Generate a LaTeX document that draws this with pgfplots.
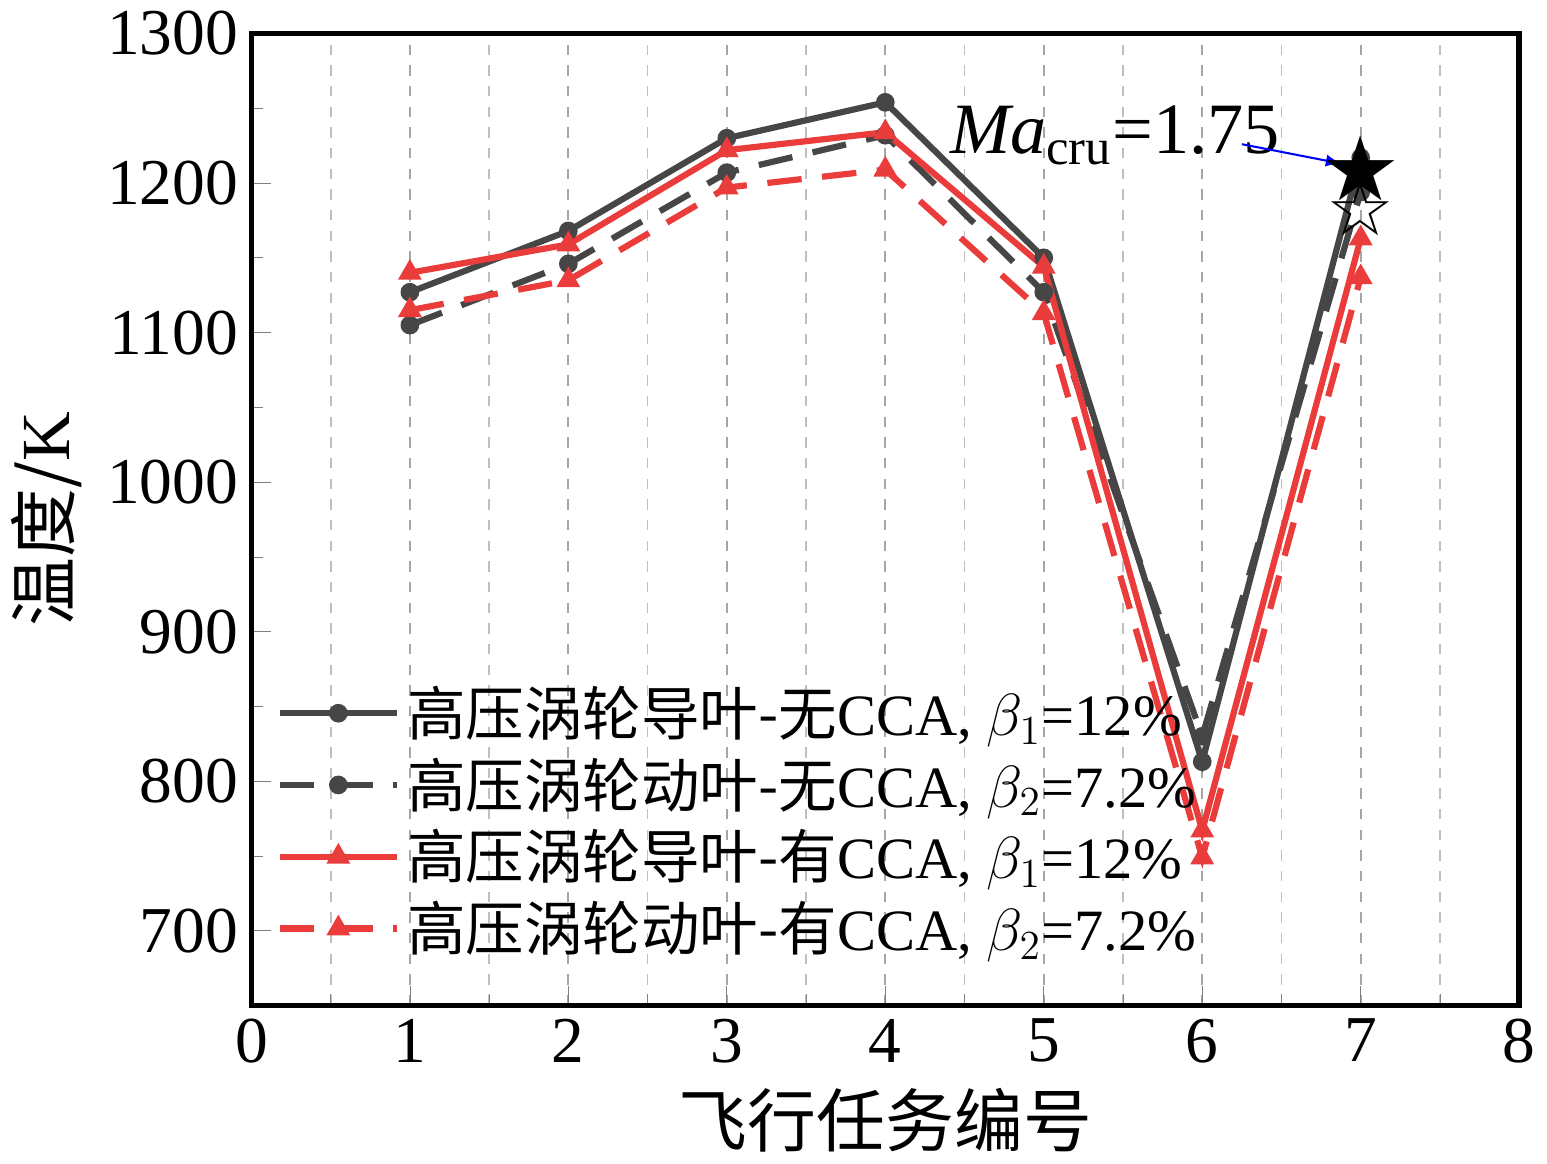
\documentclass[border=0pt]{standalone}
\usepackage{pgfplots}
\pgfplotsset{compat=1.18}
\usepackage{fontspec}
\setmainfont{Liberation Serif}
\newfontfamily\cjk{Noto Sans CJK SC}
\newfontfamily\dejavu{DejaVu Sans}
\begin{document}
\begin{tikzpicture}
\begin{axis}[
  scale only axis, width=12.94cm, height=9.92cm,
  xmin=0, xmax=8, ymin=650, ymax=1300,
  xtick={0,...,8}, minor xtick={0.5,1.5,...,7.5},
  ytick={700,800,...,1300}, minor ytick={750,850,...,1250},
  tick align=inside, major tick length=0.2cm, minor tick length=0.12cm,
  xtick pos=bottom, ytick pos=left,
  line width=1.2pt, axis line style={line width=1.6pt},
  xmajorgrids, xminorgrids,
  major grid style={gray!70, dashed, line width=0.5pt},
  minor grid style={gray!50, dashed, line width=0.5pt},
  /pgf/number format/assume math mode=true,
  /pgf/number format/1000 sep={},
  tick label style={font=\fontsize{19}{23}\selectfont},
  xlabel={\cjk\fontsize{20}{24}\selectfont 飞行任务编号},
  ylabel={\cjk\fontsize{20}{24}\selectfont 温度/\rmfamily K},
  legend style={draw=none, fill=none, at={(0.01,0.345)}, anchor=north west,
    font=\fontsize{17}{21}\selectfont, row sep=1pt},
  legend cell align=left,
  legend image code/.code={\draw[#1] (0cm,0cm) -- (0.6cm,0cm) (0.6cm,0cm) -- (1.2cm,0cm);
     \draw[#1, solid] plot coordinates {(0.6cm,0cm)};},
]
\addplot[color={rgb,255:red,70;green,70;blue,70}, mark=*, mark size=1.8pt, line width=1.8pt] coordinates {(1,1127)(2,1168)(3,1230)(4,1254)(5,1150)(6,813)(7,1217)};
\addlegendentry{{\cjk 高压涡轮导叶-无}CCA, $\beta_1$=12\%}
\addplot[color={rgb,255:red,70;green,70;blue,70}, dash pattern=on 10pt off 6pt, mark=*, mark options={solid}, mark size=1.8pt, line width=1.8pt] coordinates {(1,1105)(2,1146)(3,1207)(4,1232)(5,1127)(6,830)(7,1194)};
\addlegendentry{{\cjk 高压涡轮动叶-无}CCA, $\beta_2$=7.2\%}
\addplot[color={rgb,255:red,235;green,60;blue,60}, mark=triangle*, mark size=2.2pt, line width=1.8pt] coordinates {(1,1140)(2,1159)(3,1222)(4,1234)(5,1144)(6,767)(7,1163)};
\addlegendentry{{\cjk 高压涡轮导叶-有}CCA, $\beta_1$=12\%}
\addplot[color={rgb,255:red,235;green,60;blue,60}, dash pattern=on 10pt off 6pt, mark=triangle*, mark options={solid}, mark size=2.2pt, line width=1.8pt] coordinates {(1,1115)(2,1135)(3,1197)(4,1209)(5,1113)(6,749)(7,1137)};
\addlegendentry{{\cjk 高压涡轮动叶-有}CCA, $\beta_2$=7.2\%}
\addplot[only marks, blue, mark=text, text mark={\dejavu\fontsize{26}{26}\selectfont ★}, forget plot] coordinates {(7,1210)};
\addplot[only marks, blue, mark=text, text mark={\dejavu\fontsize{22}{22}\selectfont ☆}, forget plot] coordinates {(7,1183)};
\node[font=\fontsize{21}{25}\selectfont] at (axis cs:5.45,1232) {\textit{Ma}\textsubscript{cru}=1.75};
\draw[blue, -latex, line width=0.6pt] (axis cs:6.25,1226) -- (axis cs:6.88,1213);
\end{axis}
\end{tikzpicture}
\end{document}
